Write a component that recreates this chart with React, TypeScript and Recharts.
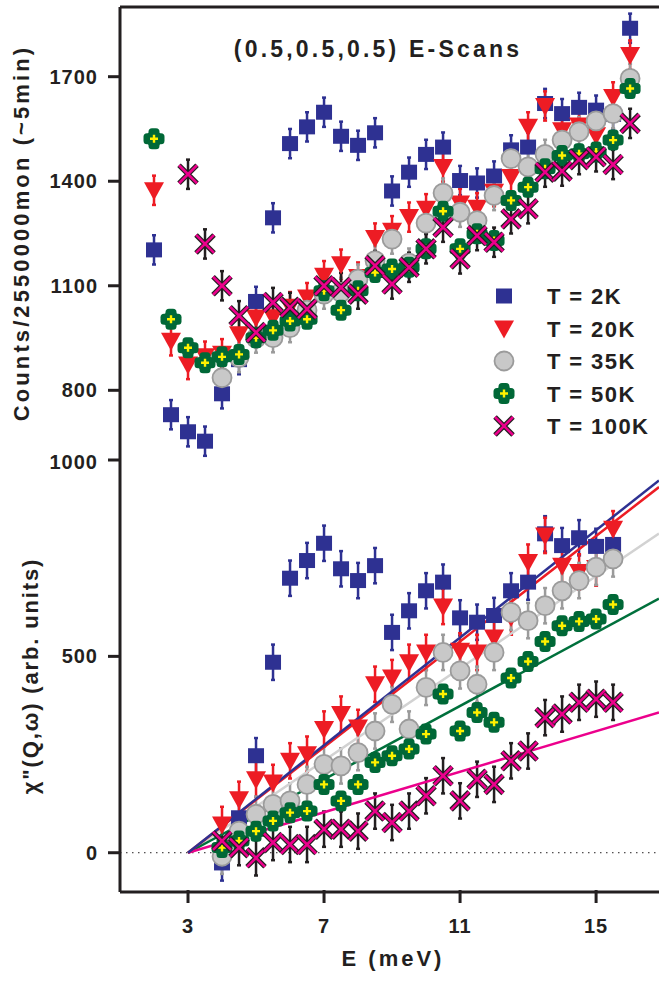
import React from 'react';
import { ComposedChart, Scatter, Line, XAxis, YAxis, ReferenceLine, ErrorBar } from 'recharts';

const FONT = '"Liberation Sans", Arial, sans-serif';
const INK = '#231f20';
const BLUE = '#2e3192';
const RED = '#ed1c24';
const GREY = '#c8c8c8';
const GREY_EDGE = '#9b9b9b';
const GREEN = '#006837';
const YELLOW = '#fff200';
const PINK = '#ec008c';
const FIT_GREY = '#d2d2d2';

// energy transfer (meV)
const topE = [2, 2.5, 3, 3.5, 4, 4.5, 5, 5.5, 6, 6.5, 7, 7.5, 8, 8.5, 9, 9.5, 10, 10.5, 11, 11.5, 12, 12.5, 13, 13.5, 14, 14.5, 15, 15.5, 16];
const botE = [4, 4.5, 5, 5.5, 6, 6.5, 7, 7.5, 8, 8.5, 9, 9.5, 10, 10.5, 11, 11.5, 12, 12.5, 13, 13.5, 14, 14.5, 15, 15.5];

// raw counts, upper panel
const top2K = [1203, 730, 681, 654, 790, 888, 1055, 1295, 1508, 1556, 1598, 1529, 1503, 1539, 1372, 1426, 1477, 1498, 1402, 1395, 1415, 1490, 1498, 1623, 1594, 1612, 1604, 1592, 1839];
const top20K = [1374, 942, 874, 898, 905, 961, 1009, 1010, 1040, 1066, 1129, 1162, 1125, 1237, 1258, 1297, 1321, 1441, 1336, 1324, 1370, 1412, 1556, 1616, 1546, 1560, 1532, 1642, 1762];
const top35K = [null, null, null, null, 836, 894, 950, 951, 980, 1030, 1076, 1081, 1119, 1172, 1234, 1165, 1280, 1366, 1311, 1287, 1359, 1465, 1441, 1477, 1518, 1542, 1573, 1594, 1695];
const top50K = [1522, 1004, 922, 879, 896, 903, 951, 972, 999, 1004, 1086, 1030, 1086, 1138, 1148, 1153, 1206, 1314, 1206, 1249, 1230, 1345, 1383, 1436, 1474, 1479, 1484, 1518, 1666];
const top100K = [null, null, 1420, 1220, 1100, 1014, 966, 1052, 1038, 1033, 1100, 1095, 1076, 1158, 1105, 1153, 1206, 1268, 1177, 1244, 1225, 1292, 1321, 1426, 1429, 1462, 1470, 1448, 1566];
const topErr = 42;

// chi'' lower panel
const bot2K = [-26, 89, 247, 485, 699, 744, 788, 723, 693, 731, 561, 616, 667, 689, 598, 587, 604, 667, 689, 812, 782, 802, 780, 785];
const bot20K = [72, 136, 187, 179, 234, 251, 315, 353, 319, 429, 446, 485, 510, 627, 514, 510, 548, 600, 740, 808, 731, 715, 725, 825];
const bot35K = [-9, 55, 98, 123, 132, 174, 225, 221, 255, 310, 378, 315, 421, 510, 463, 429, 510, 612, 591, 629, 667, 693, 727, 748];
const bot50K = [13, 30, 55, 81, 102, 106, 174, 132, 174, 230, 247, 264, 302, 404, 310, 357, 332, 445, 487, 538, 578, 589, 595, 632];
const bot100K = [30, 13, -13, 26, 21, 21, 60, 60, 55, 106, 77, 106, 145, 196, 132, 187, 174, 234, 259, 344, 353, 383, 391, 383];
const botErr = 45;

// linear fits from the gap at 3 meV
const fitE = [3, 16.85];
const fit2K = [0, 948];
const fit20K = [0, 931];
const fit35K = [0, 813];
const fit50K = [0, 647];
const fit100K = [0, 357];

const pts = (es: number[], ys: (number | null)[], err: number) =>
  es.map((x, i) => ({ x, y: ys[i], err })).filter(p => p.y !== null);
const fit = (ys: number[]) => fitE.map((x, i) => ({ x, y: ys[i] }));

const Square = ({ cx, cy }: any) => <rect x={cx - 8} y={cy - 7.5} width={16} height={15} fill={BLUE} />;
const Tri = ({ cx, cy }: any) => (
  <polygon points={`${cx - 10},${cy - 8} ${cx + 10},${cy - 8} ${cx},${cy + 10}`} fill={RED} />
);
const Circ = ({ cx, cy }: any) => <circle cx={cx} cy={cy} r={9.5} fill={GREY} stroke={GREY_EDGE} strokeWidth={1.8} />;
const Flower = ({ cx, cy }: any) => (
  <g>
    <g fill={GREEN}>
      <rect x={cx - 5.5} y={cy - 10.5} width={11} height={21} rx={3.5} />
      <rect x={cx - 10.5} y={cy - 5.5} width={21} height={11} rx={3.5} />
      <circle cx={cx} cy={cy} r={8} />
    </g>
    <path d={`M${cx - 4},${cy}H${cx + 4}M${cx},${cy - 4}V${cy + 4}`} stroke={YELLOW} strokeWidth={2.4} />
  </g>
);
const Cross = ({ cx, cy }: any) => {
  const d = `M${cx - 9},${cy - 9}L${cx + 9},${cy + 9}M${cx + 9},${cy - 9}L${cx - 9},${cy + 9}`;
  return (
    <g>
      <path d={d} stroke={INK} strokeWidth={5} />
      <path d={d} stroke={PINK} strokeWidth={2.6} />
    </g>
  );
};

const XTick = ({ x, y, payload, up, down, label }: any) => (
  <g>
    <line x1={x} x2={x} y1={y - up} y2={y + down} stroke={INK} strokeWidth={3} />
    {label && (
      <text x={x} y={y + 41} textAnchor="middle" fontFamily={FONT} fontWeight="bold" fontSize={20} letterSpacing={1} fill={INK}>
        {payload.value}
      </text>
    )}
  </g>
);

const yTick = { fill: INK, fontSize: 20, fontWeight: 'bold', fontFamily: FONT, letterSpacing: 1 };
const axisLine = { stroke: INK, strokeWidth: 3 };

const legendRows = [
  { name: 'T = 2K', Mark: Square },
  { name: 'T = 20K', Mark: Tri },
  { name: 'T = 35K', Mark: Circ },
  { name: 'T = 50K', Mark: Flower },
  { name: 'T = 100K', Mark: Cross },
];

export default function App() {
  return (
    <div style={{ position: 'absolute', left: 0, top: 0, width: 659, height: 997, overflow: 'hidden', background: '#fff' }}>
      <div style={{ position: 'absolute', left: 0, top: 0 }}>
        <ComposedChart width={659} height={480} margin={{ top: 7, right: 0, bottom: 20, left: 0 }}>
          <XAxis type="number" dataKey="x" domain={[1, 16.85]} allowDataOverflow ticks={[3, 7, 11, 15]}
            height={0} tickSize={0} tickMargin={0} tickLine={false} axisLine={axisLine}
            tick={(p: any) => <XTick {...p} up={12} down={10} />} />
          <YAxis type="number" dataKey="y" domain={[600, 1900]} allowDataOverflow ticks={[800, 1100, 1400, 1700]}
            width={120} tickSize={12} tickMargin={10} axisLine={axisLine} tickLine={axisLine} tick={yTick} />
          <ReferenceLine y={1900} stroke={INK} strokeWidth={3} />
          <Scatter data={pts(topE, top2K, topErr)} shape={Square} isAnimationActive={false}>
            <ErrorBar dataKey="err" direction="y" width={2} strokeWidth={2.5} stroke={BLUE} />
          </Scatter>
          <Scatter data={pts(topE, top20K, topErr)} shape={Tri} isAnimationActive={false}>
            <ErrorBar dataKey="err" direction="y" width={2} strokeWidth={2.5} stroke={RED} />
          </Scatter>
          <Scatter data={pts(topE, top35K, topErr)} shape={Circ} isAnimationActive={false}>
            <ErrorBar dataKey="err" direction="y" width={2} strokeWidth={2.5} stroke={GREY_EDGE} />
          </Scatter>
          <Scatter data={pts(topE, top50K, topErr)} shape={Flower} isAnimationActive={false} />
          <Scatter data={pts(topE, top100K, topErr)} shape={Cross} isAnimationActive={false}>
            <ErrorBar dataKey="err" direction="y" width={2} strokeWidth={2.5} stroke={INK} />
          </Scatter>
        </ComposedChart>
      </div>

      <div style={{ position: 'absolute', left: 0, top: 450 }}>
        <ComposedChart width={659} height={547} margin={{ top: 10, right: 0, bottom: 45, left: 0 }}>
          <XAxis type="number" dataKey="x" domain={[1, 16.85]} allowDataOverflow ticks={[3, 7, 11, 15]}
            height={60} tickSize={0} tickMargin={0} tickLine={false} axisLine={axisLine}
            tick={(p: any) => <XTick {...p} up={2} down={11} label />} />
          <YAxis type="number" dataKey="y" domain={[-100, 1000]} allowDataOverflow ticks={[0, 500, 1000]}
            width={120} tickSize={12} tickMargin={10} axisLine={axisLine} tickLine={axisLine} tick={yTick} />
          <ReferenceLine y={0} stroke={INK} strokeWidth={1} strokeDasharray="1.5 4.5" />
          <Scatter data={pts(botE, bot2K, botErr)} shape={Square} isAnimationActive={false}>
            <ErrorBar dataKey="err" direction="y" width={2} strokeWidth={2.5} stroke={BLUE} />
          </Scatter>
          <Scatter data={pts(botE, bot20K, botErr)} shape={Tri} isAnimationActive={false}>
            <ErrorBar dataKey="err" direction="y" width={2} strokeWidth={2.5} stroke={RED} />
          </Scatter>
          <Scatter data={pts(botE, bot35K, botErr)} shape={Circ} isAnimationActive={false}>
            <ErrorBar dataKey="err" direction="y" width={2} strokeWidth={2.5} stroke={GREY_EDGE} />
          </Scatter>
          <Scatter data={pts(botE, bot50K, botErr)} shape={Flower} isAnimationActive={false} />
          <Scatter data={pts(botE, bot100K, botErr)} shape={Cross} isAnimationActive={false}>
            <ErrorBar dataKey="err" direction="y" width={2} strokeWidth={2.5} stroke={INK} />
          </Scatter>
          <Line data={fit(fit35K)} dataKey="y" stroke={FIT_GREY} strokeWidth={2.5} dot={false} isAnimationActive={false} />
          <Line data={fit(fit50K)} dataKey="y" stroke="#00703c" strokeWidth={2.5} dot={false} isAnimationActive={false} />
          <Line data={fit(fit100K)} dataKey="y" stroke={PINK} strokeWidth={2.5} dot={false} isAnimationActive={false} />
          <Line data={fit(fit20K)} dataKey="y" stroke={RED} strokeWidth={2.5} dot={false} isAnimationActive={false} />
          <Line data={fit(fit2K)} dataKey="y" stroke={BLUE} strokeWidth={2.5} dot={false} isAnimationActive={false} />
        </ComposedChart>
      </div>

      <svg width={659} height={997} style={{ position: 'absolute', left: 0, top: 0, pointerEvents: 'none' }}
        fontFamily={FONT} fontWeight="bold" fill={INK}>
        <text x={378} y={57} textAnchor="middle" fontSize={23} letterSpacing={3.2}>(0.5,0.5,0.5) E-Scans</text>
        {legendRows.map((r, i) => {
          const cy = 296 + i * 32.5;
          return (
            <g key={r.name}>
              <r.Mark cx={504} cy={cy} />
              <text x={547} y={cy + 8} fontSize={22} letterSpacing={1.4}>{r.name}</text>
            </g>
          );
        })}
        <text transform="translate(29,233) rotate(-90)" textAnchor="middle" fontSize={22} letterSpacing={3.1}>
          Counts/2550000mon (~5min)
        </text>
        <text transform="translate(38,676) rotate(-90)" textAnchor="middle" fontSize={22} letterSpacing={1.85}>
          χ"(Q,ω) (arb. units)
        </text>
        <text x={393} y={966} textAnchor="middle" fontSize={22} letterSpacing={3}>E (meV)</text>
      </svg>
    </div>
  );
}
